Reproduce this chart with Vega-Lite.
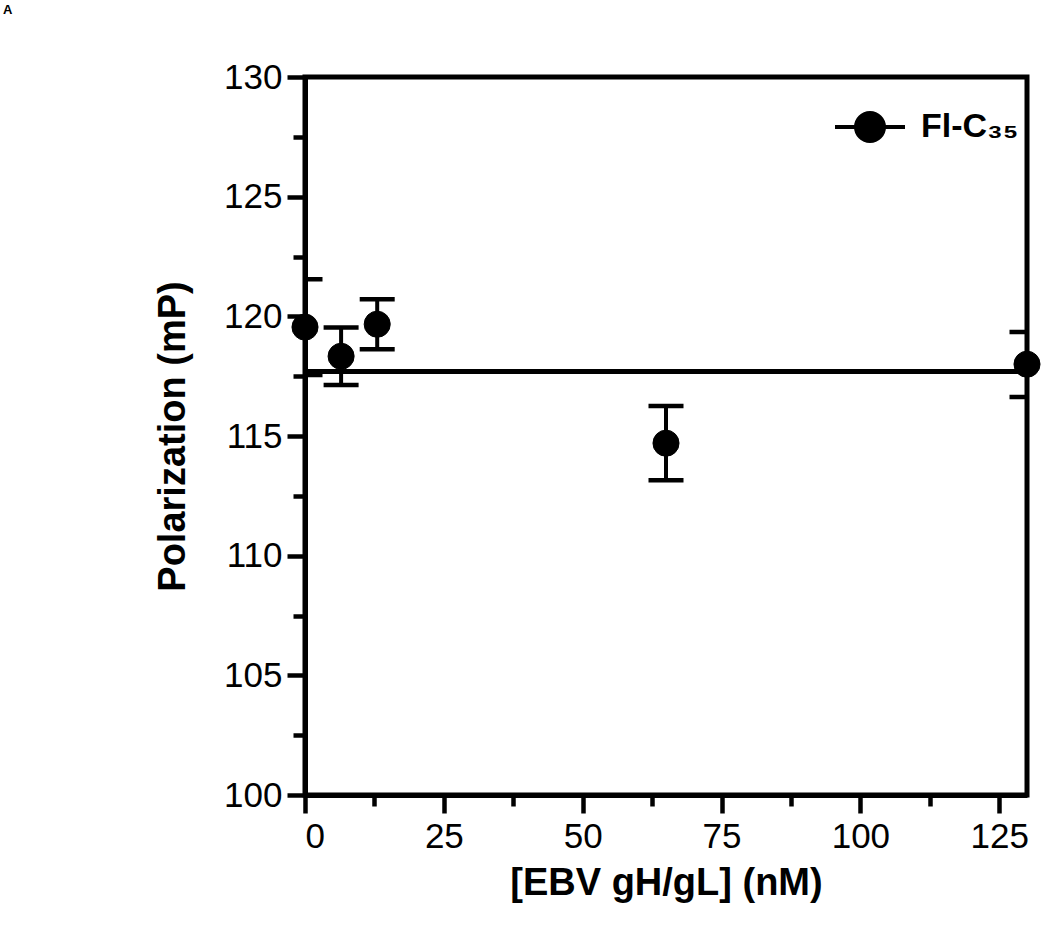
{
  "$schema": "https://vega.github.io/schema/vega-lite/v6.json",
  "width": 722,
  "height": 718,
  "autosize": {"type": "none"},
  "padding": {"left": 305, "top": 77, "right": 23, "bottom": 143},
  "background": "white",
  "config": {
    "font": "Liberation Sans",
    "view": {"stroke": "black", "strokeWidth": 5},
    "axis": {
      "domainColor": "black",
      "domainWidth": 5,
      "tickColor": "black",
      "tickWidth": 4.5,
      "labelColor": "black",
      "labelFont": "Liberation Sans",
      "labelFontSize": 35,
      "titleFont": "Liberation Sans",
      "titleFontSize": 38,
      "titleFontWeight": "bold",
      "titleColor": "black",
      "grid": false
    }
  },
  "title": {
    "text": "A",
    "anchor": "start",
    "frame": "group",
    "baseline": "bottom",
    "dx": -302,
    "offset": 30,
    "fontSize": 13,
    "fontWeight": "bold",
    "color": "black"
  },
  "data": {
    "values": [
      {"conc": 0, "mP": 119.55, "lo": 117.55, "hi": 121.55, "series": "Fl-C₃₅"},
      {"conc": 6.5, "mP": 118.33, "lo": 117.13, "hi": 119.53, "series": "Fl-C₃₅"},
      {"conc": 13, "mP": 119.67, "lo": 118.62, "hi": 120.71, "series": "Fl-C₃₅"},
      {"conc": 65, "mP": 114.7, "lo": 113.15, "hi": 116.25, "series": "Fl-C₃₅"},
      {"conc": 130, "mP": 118.0, "lo": 116.63, "hi": 119.35, "series": "Fl-C₃₅"}
    ]
  },
  "encoding": {
    "x": {
      "field": "conc",
      "type": "quantitative",
      "title": "[EBV gH/gL] (nM)",
      "scale": {"domain": [0, 130], "nice": false, "zero": false},
      "axis": {
        "values": [0, 12.5, 25, 37.5, 50, 62.5, 75, 87.5, 100, 112.5, 125],
        "format": "d",
        "labelExpr": "datum.value % 25 === 0 ? datum.label : ''",
        "tickSize": {"condition": {"test": "datum.value % 25 === 0", "value": 18}, "value": 11},
        "labelPadding": 6,
        "titlePadding": 10
      }
    },
    "y": {
      "field": "mP",
      "type": "quantitative",
      "title": "Polarization (mP)",
      "scale": {"domain": [100, 130], "nice": false, "zero": false},
      "axis": {
        "values": [100, 102.5, 105, 107.5, 110, 112.5, 115, 117.5, 120, 122.5, 125, 127.5, 130],
        "format": "d",
        "labelExpr": "datum.value % 5 === 0 ? datum.label : ''",
        "tickSize": {"condition": {"test": "datum.value % 5 === 0", "value": 18}, "value": 12},
        "labelPadding": 5,
        "titlePadding": 31
      }
    }
  },
  "layer": [
    {
      "mark": {"type": "rule", "color": "black", "strokeWidth": 4.5},
      "encoding": {
        "x": {"datum": 0, "type": "quantitative"},
        "x2": {"datum": 130},
        "y": {"datum": 117.7, "type": "quantitative", "title": "Polarization (mP)"}
      }
    },
    {
      "mark": {"type": "rule", "color": "black", "strokeWidth": 4},
      "encoding": {
        "y": {"field": "lo", "type": "quantitative", "title": "Polarization (mP)"},
        "y2": {"field": "hi"}
      }
    },
    {
      "mark": {"type": "tick", "orient": "horizontal", "color": "black", "opacity": 1, "size": 35, "thickness": 4.5, "clip": true},
      "encoding": {
        "y": {"field": "lo", "type": "quantitative", "title": "Polarization (mP)"}
      }
    },
    {
      "mark": {"type": "tick", "orient": "horizontal", "color": "black", "opacity": 1, "size": 35, "thickness": 4.5, "clip": true},
      "encoding": {
        "y": {"field": "hi", "type": "quantitative", "title": "Polarization (mP)"}
      }
    },
    {
      "mark": {"type": "point", "filled": true, "size": 680, "opacity": 1, "stroke": "black", "strokeWidth": 1},
      "encoding": {
        "color": {
          "field": "series",
          "type": "nominal",
          "scale": {"range": ["black"]},
          "legend": {
            "title": null,
            "orient": "none",
            "legendX": 528,
            "legendY": 13,
            "symbolType": "M-1,0H1M0.4,0A0.4,0.4,0,1,1,-0.4,0A0.4,0.4,0,1,1,0.4,0",
            "symbolSize": 4900,
            "symbolStrokeWidth": 4,
            "symbolFillColor": "black",
            "symbolStrokeColor": "black",
            "symbolOpacity": 1,
            "labelFont": "Liberation Sans",
            "labelFontSize": 34,
            "labelFontWeight": "bold",
            "labelColor": "black",
            "labelOffset": 14,
            "labelLimit": 300
          }
        }
      }
    }
  ]
}
